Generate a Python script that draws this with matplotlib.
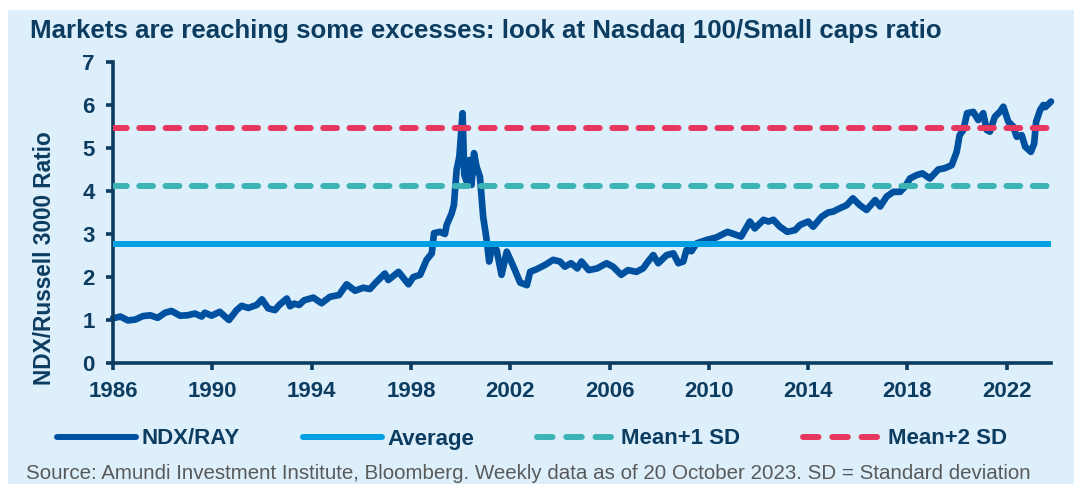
import matplotlib
matplotlib.use('Agg')
import matplotlib.pyplot as plt
from matplotlib.patches import Rectangle
from matplotlib.lines import Line2D

plt.rcParams['font.family'] = ['Liberation Sans', 'DejaVu Sans']

# weekly NDX / Russell 3000 ratio (decimal years)
years = [1986.0, 1986.3, 1986.6, 1986.9, 1987.2, 1987.5, 1987.8, 1988.1, 1988.36, 1988.7,
         1989.0, 1989.3, 1989.57, 1989.7, 1989.97, 1990.3, 1990.67, 1990.98, 1991.18, 1991.45,
         1991.79, 1992.0, 1992.25, 1992.52, 1992.7, 1993.0, 1993.13, 1993.3, 1993.5, 1993.7,
         1994.07, 1994.4, 1994.74, 1995.1, 1995.41, 1995.75, 1996.08, 1996.35, 1996.55, 1996.95,
         1997.09, 1997.5, 1997.9, 1998.1, 1998.37, 1998.63, 1998.84, 1998.93, 1999.17, 1999.37,
         1999.44, 1999.64, 1999.73, 1999.84, 1999.95, 2000.08, 2000.15, 2000.27, 2000.35, 2000.44,
         2000.54, 2000.64, 2000.78, 2000.91, 2001.05, 2001.15, 2001.29, 2001.45, 2001.65, 2001.86,
         2002.13, 2002.4, 2002.67, 2002.8, 2003.06, 2003.4, 2003.73, 2004.0, 2004.2, 2004.45,
         2004.7, 2004.87, 2005.16, 2005.5, 2005.88, 2006.14, 2006.47, 2006.74, 2007.08, 2007.35,
         2007.55, 2007.76, 2007.96, 2008.16, 2008.3, 2008.57, 2008.77, 2008.97, 2009.1, 2009.3,
         2009.5, 2009.9, 2010.3, 2010.75, 2011.1, 2011.3, 2011.65, 2011.85, 2012.2, 2012.4,
         2012.6, 2012.86, 2013.16, 2013.47, 2013.67, 2014.0, 2014.2, 2014.54, 2014.8, 2015.0,
         2015.28, 2015.55, 2015.8, 2016.08, 2016.35, 2016.7, 2016.9, 2017.16, 2017.43, 2017.7,
         2017.9, 2018.1, 2018.37, 2018.6, 2018.9, 2019.24, 2019.5, 2019.78, 2019.98, 2020.1,
         2020.25, 2020.4, 2020.65, 2020.85, 2021.05, 2021.19, 2021.32, 2021.52, 2021.72, 2021.86,
         2022.06, 2022.26, 2022.4, 2022.6, 2022.74, 2022.97, 2023.1, 2023.18, 2023.34, 2023.47,
         2023.55, 2023.78]
ratio = [1.04, 1.08, 0.99, 1.01, 1.09, 1.11, 1.05, 1.17, 1.21, 1.10,
         1.11, 1.15, 1.08, 1.17, 1.10, 1.19, 1.00, 1.23, 1.33, 1.28,
         1.35, 1.48, 1.27, 1.23, 1.35, 1.50, 1.32, 1.38, 1.35, 1.46,
         1.52, 1.39, 1.54, 1.58, 1.83, 1.68, 1.75, 1.72, 1.85, 2.08,
         1.93, 2.12, 1.83, 2.00, 2.05, 2.40, 2.55, 3.02, 3.05, 3.00,
         3.21, 3.48, 3.67, 4.49, 4.80, 5.81, 4.37, 4.18, 4.72, 4.14,
         4.88, 4.57, 4.33, 3.40, 2.86, 2.36, 2.75, 2.63, 2.05, 2.59,
         2.24, 1.87, 1.81, 2.12, 2.18, 2.28, 2.40, 2.36, 2.24, 2.32,
         2.20, 2.36, 2.16, 2.20, 2.32, 2.24, 2.05, 2.16, 2.12, 2.20,
         2.36, 2.51, 2.32, 2.43, 2.51, 2.55, 2.32, 2.36, 2.63, 2.60,
         2.78, 2.86, 2.92, 3.05, 2.98, 2.94, 3.29, 3.13, 3.33, 3.29,
         3.33, 3.17, 3.05, 3.09, 3.21, 3.29, 3.17, 3.40, 3.50, 3.52,
         3.60, 3.67, 3.83, 3.67, 3.56, 3.79, 3.64, 3.87, 3.98, 3.98,
         4.10, 4.29, 4.37, 4.41, 4.29, 4.50, 4.53, 4.60, 4.91, 5.30,
         5.42, 5.81, 5.84, 5.65, 5.81, 5.42, 5.38, 5.73, 5.84, 5.96,
         5.61, 5.50, 5.26, 5.30, 5.03, 4.91, 5.10, 5.61, 5.88, 6.00,
         5.95, 6.08]
mean_ratio = 2.76
mean_plus_1sd = 4.11
mean_plus_2sd = 5.46

x_ticks = list(range(1986, 2023, 4))
y_ticks = list(range(0, 8))
labels = ['NDX/RAY', 'Average', 'Mean+1 SD', 'Mean+2 SD']

navy = '#0C3C60'
bg = '#DDEFFB'
c_series = '#0050A0'
c_avg = '#009FE3'
c_sd1 = '#3CB4B6'
c_sd2 = '#E8375E'
dash = (0, (2.3, 2.1))
dash_leg = (0, (2.6, 2.3))

fig = plt.figure(figsize=(10.77, 4.84), dpi=100)
fig.patches.append(Rectangle((8 / 1077, 0), 1066 / 1077, 474 / 484, transform=fig.transFigure,
                             facecolor=bg, edgecolor='none', zorder=-5))

ax = fig.add_axes([113 / 1077, 121 / 484, 938 / 1077, 301 / 484])
ax.set_facecolor('none')
ax.set_zorder(2)

ax.plot(years, ratio, color=c_series, lw=4.8, solid_joinstyle='round',
        solid_capstyle='round', zorder=2, clip_on=False)
ax.axhline(mean_ratio, color=c_avg, lw=4.3, zorder=3)
ax.axhline(mean_plus_1sd, color=c_sd1, lw=4.3, linestyle=dash, dash_capstyle='round', zorder=3)
ax.axhline(mean_plus_2sd, color=c_sd2, lw=4.3, linestyle=dash, dash_capstyle='round', zorder=3)

ax.set_xlim(1986, 2023.78)
ax.set_ylim(0, 7)
ax.set_xticks(x_ticks)
ax.set_yticks(y_ticks)
for s in ['top', 'right']:
    ax.spines[s].set_visible(False)
for s in ['left', 'bottom']:
    ax.spines[s].set_color(navy)
    ax.spines[s].set_linewidth(2.6)
ax.tick_params(axis='both', direction='out', length=5, width=2.6, color=navy,
               labelcolor=navy, labelsize=16, pad=8)
for lab in ax.get_xticklabels() + ax.get_yticklabels():
    lab.set_fontweight('bold')

fig.text(45 / 1077, 1 - 258 / 484, 'NDX/Russell 3000 Ratio', rotation=90, ha='center',
         va='center', fontsize=16.3, fontweight='bold', color=navy)

fig.text(30 / 1077, 1 - 38 / 484,
         'Markets are reaching some excesses: look at Nasdaq 100/Small caps ratio',
         ha='left', va='baseline', fontsize=18.6, fontweight='bold', color=navy)

handles = [Line2D([], [], color=c_series, lw=4.3, solid_capstyle='round'),
           Line2D([], [], color=c_avg, lw=4.3, solid_capstyle='round'),
           Line2D([], [], color=c_sd1, lw=4.3, linestyle=dash_leg, dash_capstyle='round'),
           Line2D([], [], color=c_sd2, lw=4.3, linestyle=dash_leg, dash_capstyle='round')]
leg = fig.legend(handles, labels, loc='center', bbox_to_anchor=(532 / 1077, 1 - 439 / 484),
                 ncol=4, frameon=False, handlelength=3.56, handletextpad=0.23,
                 columnspacing=2.84, prop=dict(weight='bold', size=16))
for t in leg.get_texts():
    t.set_color(navy)

fig.text(26 / 1077, 1 - 479 / 484,
         'Source: Amundi Investment Institute, Bloomberg. Weekly data as of 20 October 2023. '
         'SD = Standard deviation',
         ha='left', va='baseline', fontsize=14.8, color='#595959')

fig.savefig('out.png', dpi=100, facecolor='white')
